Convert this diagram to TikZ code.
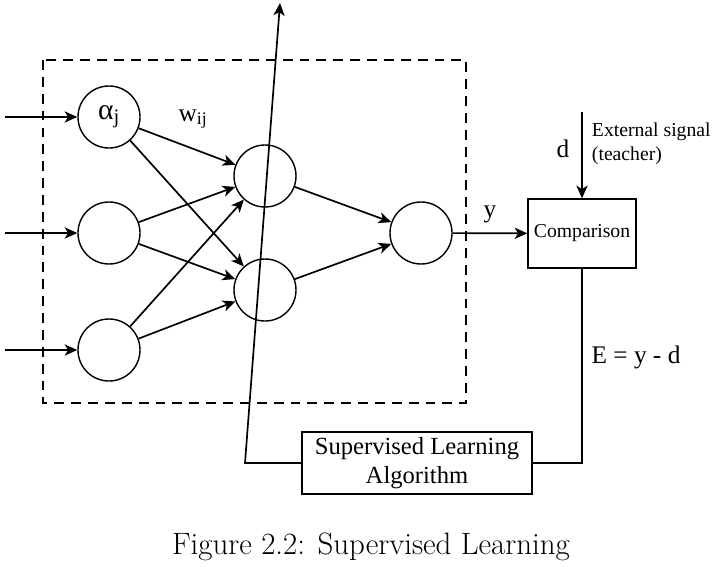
\documentclass[tikz,border=0pt]{standalone}
\usepackage{fontspec}
\newfontfamily\timesfont{Liberation Serif}
\usetikzlibrary{arrows.meta}
\newcommand{\neuronnode}[4]{\node[neuron] (#1) at ( #2 , #3 ) {#4};}
\tikzset{
  neuron/.style={circle,draw,line width=1pt,inner sep=0pt,minimum size=1.55cm},
  blockbox/.style={draw,line width=1pt,inner sep=0pt},
  sig/.style={line width=1.2pt,-{Stealth[length=9pt,width=8pt,inset=2.5pt]}},
  wire/.style={line width=1.1pt}
}

\begin{document}
\begin{tikzpicture}[x=0.025cm,y=-0.025cm,font=\timesfont\fontsize{18}{21}\selectfont]
        \useasboundingbox (0,0) rectangle (714,566);
        %dashed frame
        \draw[line width=1pt,dash pattern=on 7pt off 5pt] (43,60) rectangle (466,403);

        %nodes
        \neuronnode{in1}{109}{117}{\fontsize{21}{24}\selectfont α\textsubscript{j}}
        \neuronnode{in2}{109}{233}{}
        \neuronnode{in3}{109}{350}{}
        \neuronnode{hid1}{265}{176}{}
        \neuronnode{hid2}{265}{290}{}
        \neuronnode{out}{421}{233}{}
        \node[blockbox,minimum width=2.7cm,minimum height=1.725cm,font=\timesfont\fontsize{14}{17}\selectfont] (cmp) at (582,233.5) {Comparison};
        \node[blockbox,minimum width=5.75cm,minimum height=1.55cm,align=center,font=\timesfont\fontsize{17.5}{20.5}\selectfont] (sla) at (417,463) {Supervised Learning\\Algorithm};
        \coordinate (s1) at (5,117);
        \coordinate (s2) at (5,233);
        \coordinate (s3) at (5,350);
        \coordinate (teach) at (582,112);
        \coordinate (rb) at (582,463);
        \coordinate (lb) at (245,463);
        \coordinate (tip) at (280,3);

        %edges
        \draw[sig] (s1) -- (in1);
        \draw[sig] (s2) -- (in2);
        \draw[sig] (s3) -- (in3);
        \foreach \i in {in1,in2,in3} {
          \draw[sig] (\i) -- (hid1);
          \draw[sig] (\i) -- (hid2);
        }
        \draw[sig] (hid1) -- (out);
        \draw[sig] (hid2) -- (out);
        \draw[sig] (out) -- (cmp);
        \draw[sig] (teach) -- (cmp);
        \draw[wire] (cmp) -- (rb) -- (sla);
        \draw[sig] (sla) -- (lb) -- (tip);

        %labels
        \node (wlab) at (193,119) {w\textsubscript{ij}};
        \node (ylab) at (490,214) {y};
        \node (dlab) at (563,149) {d};
        \node[anchor=west,align=left,font=\timesfont\fontsize{14}{17}\selectfont] (ext) at (587,144) {External signal\\(teacher)};
        \node (elab) at (636,357) {E = y - d};
        \node[font=\fontsize{22}{26}\selectfont] (cap) at (371,547) {Figure 2.2: Supervised Learning};
\end{tikzpicture}
\end{document}
